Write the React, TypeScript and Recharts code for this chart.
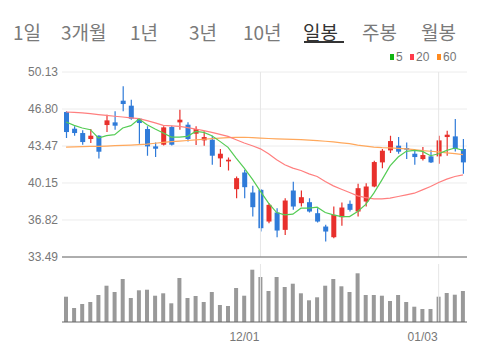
import {
  Bar,
  CartesianGrid,
  ComposedChart,
  Line,
  ReferenceLine,
  XAxis,
  YAxis,
} from "recharts";

const dates = [
  "10/28", "10/29", "11/01", "11/02", "11/03", "11/04", "11/05", "11/08", "11/09", "11/10",
  "11/11", "11/12", "11/15", "11/16", "11/17", "11/18", "11/19", "11/22", "11/23", "11/24",
  "11/25", "11/26", "11/29", "11/30", "12/01", "12/02", "12/03", "12/06", "12/07", "12/08",
  "12/09", "12/10", "12/13", "12/14", "12/15", "12/16", "12/17", "12/20", "12/21", "12/22",
  "12/23", "12/24", "12/27", "12/28", "12/29", "12/30", "01/03", "01/04", "01/05", "01/06",
];

const open = [
  46.53, 45.03, 44.64, 44.1, 44.4, 45.36, 45.6, 47.55, 47.1, 45.93,
  45.0, 43.44, 43.59, 45.18, 45.6, 45.39, 44.58, 43.98, 44.04, 42.36,
  42.09, 39.59, 41.09, 39.29, 39.53, 36.68, 37.49, 35.93, 39.47, 38.33,
  38.42, 37.43, 36.23, 35.27, 37.07, 38.27, 37.58, 38.48, 39.83, 42.0,
  43.08, 43.5, 43.29, 42.78, 42.3, 42.54, 42.54, 44.28, 44.34, 43.2,
];
const close = [
  44.73, 44.64, 43.83, 44.4, 42.96, 45.78, 45.3, 47.25, 45.93, 45.54,
  43.44, 43.23, 45.15, 43.59, 45.84, 44.1, 45.0, 44.28, 42.6, 42.78,
  42.24, 40.58, 39.77, 37.97, 36.08, 38.18, 35.87, 38.57, 38.03, 38.87,
  37.58, 36.68, 35.78, 37.28, 37.94, 37.73, 39.68, 39.83, 42.03, 43.05,
  43.92, 42.96, 43.14, 42.48, 42.66, 42.0, 43.98, 44.49, 43.2, 42.0,
];
const high = [
  46.6, 45.24, 44.88, 45.0, 44.45, 46.29, 46.59, 48.84, 47.64, 46.0,
  45.24, 43.8, 45.24, 45.3, 46.74, 45.6, 45.24, 44.79, 44.4, 43.2,
  42.45, 40.73, 41.33, 39.89, 39.6, 38.33, 37.88, 38.78, 40.25, 39.47,
  38.78, 37.88, 36.38, 38.03, 38.39, 38.57, 40.07, 40.13, 42.15, 43.2,
  44.4, 44.28, 43.8, 43.08, 43.38, 43.14, 44.4, 44.85, 45.9, 44.1,
];
const low = [
  44.19, 44.4, 43.59, 43.74, 42.36, 44.73, 44.94, 46.59, 45.84, 43.68,
  42.6, 42.48, 43.53, 43.53, 44.94, 43.89, 43.56, 43.5, 41.79, 41.58,
  41.28, 38.78, 38.78, 37.13, 35.78, 36.53, 35.27, 35.48, 37.73, 38.03,
  37.49, 36.59, 34.88, 35.18, 36.29, 37.58, 37.13, 38.03, 39.77, 41.48,
  42.84, 42.78, 42.3, 41.79, 42.18, 41.94, 41.88, 42.6, 42.99, 40.97,
];

const ma5 = [
  45.63, 45.33, 45.09, 44.94, 44.19, 44.4, 44.49, 45.09, 45.3, 45.9,
  45.39, 45.0, 44.64, 44.28, 44.28, 44.34, 44.79, 44.7, 44.4, 43.89,
  43.35, 42.39, 41.48, 40.49, 39.4, 38.33, 37.49, 37.28, 37.34, 37.88,
  37.88, 37.97, 37.49, 37.28, 37.13, 37.13, 37.58, 38.22, 39.23, 40.43,
  41.69, 42.48, 42.99, 43.08, 42.99, 42.6, 42.78, 43.08, 43.29, 43.08,
];
const ma20 = [
  46.53, 46.5, 46.45, 46.38, 46.3, 46.23, 46.15, 46.08, 46.0, 45.93,
  45.75, 45.55, 45.33, 45.28, 45.24, 45.12, 45.0, 44.85, 44.7, 44.52,
  44.34, 44.04, 43.74, 43.5, 43.22, 42.78, 42.24, 41.79, 41.48, 41.27,
  40.97, 40.73, 40.28, 39.89, 39.59, 39.29, 38.99, 38.83, 38.72, 38.72,
  38.78, 38.93, 39.08, 39.23, 39.53, 39.83, 40.19, 40.49, 40.73, 40.88,
];
const ma60 = [
  43.38, 43.4, 43.42, 43.44, 43.44, 43.47, 43.5, 43.53, 43.56, 43.6,
  43.65, 43.72, 43.8, 43.86, 43.92, 43.97, 44.02, 44.08, 44.14, 44.18,
  44.22, 44.25, 44.26, 44.22, 44.18, 44.15, 44.12, 44.1, 44.07, 44.04,
  44.0, 43.96, 43.9, 43.84, 43.76, 43.68, 43.55, 43.46, 43.38, 43.33,
  43.3, 43.26, 43.22, 43.15, 43.06, 43.0, 42.94, 42.86, 42.78, 42.7,
];

// volume in thousands of shares
const volume = [
  253, 140, 180, 200, 270, 363, 300, 430, 240, 317,
  323, 263, 287, 187, 440, 240, 260, 200, 300, 170,
  160, 340, 263, 523, 450, 310, 450, 350, 383, 287,
  217, 247, 363, 430, 357, 300, 487, 270, 270, 263,
  210, 270, 200, 153, 130, 130, 253, 290, 273, 310,
];

const priceTicks = [33.49, 36.82, 40.15, 43.47, 46.8, 50.13];
const dateTicks = ["12/01", "01/03"];
const tabs = ["1일", "3개월", "1년", "3년", "10년", "일봉", "주봉", "월봉"];
const tabLeft = [13, 61, 130, 189, 243, 303, 362, 421];

const RED = "#e8302c";
const BLUE = "#2f7bd9";

const data = dates.map((date, i) => ({
  date,
  open: open[i],
  high: high[i],
  low: low[i],
  close: close[i],
  ma5: ma5[i],
  ma20: ma20[i],
  ma60: ma60[i],
  volume: volume[i],
}));

const Candle = (props: any) => {
  const { x, y, width, height, payload } = props;
  const top = Math.min(y, y + height);
  const h = Math.abs(height);
  const k = payload.high === payload.low ? 0 : h / (payload.high - payload.low);
  const yOf = (v: number) => top + (payload.high - v) * k;
  const color = payload.close >= payload.open ? RED : BLUE;
  const cx = x + width / 2;
  const bTop = yOf(Math.max(payload.open, payload.close));
  const bBot = yOf(Math.min(payload.open, payload.close));
  return (
    <g>
      <line x1={cx} x2={cx} y1={top} y2={top + h} stroke={color} strokeWidth={1.2} />
      <rect x={x} y={bTop} width={width} height={Math.max(bBot - bTop, 1.5)} fill={color} />
    </g>
  );
};

const DateTick = (props: any) => {
  const { x, y, payload } = props;
  if (!dateTicks.includes(payload.value)) return null;
  return (
    <text x={x - 1} y={y} dy="0.71em" textAnchor="end" fontSize={12} fill="#777" fontFamily="Liberation Sans">
      {payload.value}
    </text>
  );
};

const legend = [
  { label: "5", color: "#11b511", left: 390 },
  { label: "20", color: "#ff3b4a", left: 410 },
  { label: "60", color: "#ff8a1f", left: 437 },
];

export default function App() {
  return (
    <div
      style={{
        position: "absolute",
        left: 0,
        top: 0,
        width: 478,
        height: 353,
        background: "#fff",
        overflow: "hidden",
        fontFamily: "'Noto Sans CJK KR', sans-serif",
      }}
    >
      {tabs.map((t, i) => (
        <span
          key={t}
          style={{
            position: "absolute",
            left: tabLeft[i],
            top: 21,
            fontSize: 19,
            lineHeight: "22px",
            color: t === "일봉" ? "#333" : "#7a7a7a",
          }}
        >
          {t}
        </span>
      ))}
      <div style={{ position: "absolute", left: 304, top: 41, width: 40, height: 2, background: "#333" }} />

      {legend.map((l) => (
        <div key={l.label} style={{ position: "absolute", left: l.left, top: 50, height: 14, display: "flex", alignItems: "center" }}>
          <div style={{ width: 4, height: 6, background: l.color, marginRight: 2 }} />
          <span style={{ fontSize: 12, color: "#777", fontFamily: "Liberation Sans", lineHeight: "14px" }}>{l.label}</span>
        </div>
      ))}

      <div style={{ position: "absolute", left: 0, top: 0 }}>
        <ComposedChart width={478} height={265} data={data} margin={{ top: 72, right: 11, bottom: 8, left: 0 }}>
          <CartesianGrid vertical={false} stroke="#ececec" />
          <XAxis dataKey="date" hide />
          <YAxis
            type="number"
            domain={[33.49, 50.13]}
            ticks={priceTicks}
            allowDataOverflow
            width={62}
            tickLine={false}
            axisLine={false}
            tickSize={0}
            tickMargin={4}
            tickFormatter={(v: number) => v.toFixed(2)}
            tick={{ fontSize: 12, fill: "#777", fontFamily: "Liberation Sans" }}
          />
          {dateTicks.map((d) => (
            <ReferenceLine key={d} x={d} stroke="#e6e6e6" />
          ))}
          <ReferenceLine y={33.49} stroke="#666" />
          <Bar
            dataKey={(d: any) => [d.low, d.high]}
            barSize={5}
            shape={Candle}
            isAnimationActive={false}
          />
          <Line dataKey="ma60" stroke="#ffa85c" strokeWidth={1.2} dot={false} isAnimationActive={false} />
          <Line dataKey="ma20" stroke="#ff7f7f" strokeWidth={1.2} dot={false} isAnimationActive={false} />
          <Line dataKey="ma5" stroke="#55cc55" strokeWidth={1.2} dot={false} isAnimationActive={false} />
        </ComposedChart>
      </div>

      <div style={{ position: "absolute", left: 0, top: 258 }}>
        <ComposedChart width={478} height={95} data={data} margin={{ top: 6, right: 11, bottom: 0, left: 62 }}>
          <XAxis
            dataKey="date"
            interval={0}
            height={31}
            tickLine={false}
            tickSize={6}
            tickMargin={4}
            axisLine={{ stroke: "#666" }}
            tick={DateTick}
          />
          <YAxis hide domain={[0, 580]} />
          {dateTicks.map((d) => (
            <ReferenceLine key={d} x={d} stroke="#e6e6e6" />
          ))}
          <Bar dataKey="volume" fill="#999" barSize={4} isAnimationActive={false} />
        </ComposedChart>
      </div>
    </div>
  );
}
